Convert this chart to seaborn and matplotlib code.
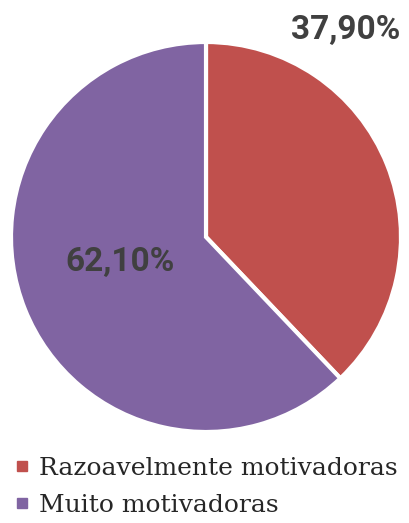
import matplotlib
matplotlib.use("Agg")
import matplotlib.pyplot as plt
import seaborn as sns
from matplotlib.lines import Line2D

categories = ["Razoavelmente motivadoras", "Muito motivadoras"]
values = [37.90, 62.10]
labels = ["37,90%", "62,10%"]
colors = ["#C0504D", "#8064A2"]

sns.set_theme(style="white")
plt.rcParams['font.family'] = ['Roboto', 'DejaVu Sans']

W, H = 409, 523
fig = plt.figure(figsize=(W / 100, H / 100), dpi=100)
cx, cy, r = 206, 237, 195
ax = fig.add_axes([(cx - r) / W, 1 - (cy + r) / H, 2 * r / W, 2 * r / H])
ax.pie(values, colors=colors, startangle=90, counterclock=False,
       wedgeprops=dict(edgecolor="white", linewidth=3), radius=1)
ax.set_xlim(-1, 1)
ax.set_ylim(-1, 1)
ax.set_aspect("equal")
ax.axis("off")

ax.text((346 - cx) / r, (cy - 30) / r, labels[0], ha="center", va="center",
        fontsize=24, fontweight="bold", color="#404040", clip_on=False)
ax.text((120 - cx) / r, (cy - 262) / r, labels[1], ha="center", va="center",
        fontsize=24, fontweight="bold", color="#404040")

handles = [Line2D([0], [0], marker="s", linestyle="none", markersize=7,
                  markerfacecolor=c, markeredgecolor=c) for c in colors]
fig.legend(handles, categories, loc="upper left", bbox_to_anchor=(0.015, 0.145),
           frameon=False, handlelength=0.5, handletextpad=0.4, labelspacing=0.55,
           prop=dict(family="DejaVu Serif", size=18), borderaxespad=0)

fig.savefig("out.png", dpi=100)
